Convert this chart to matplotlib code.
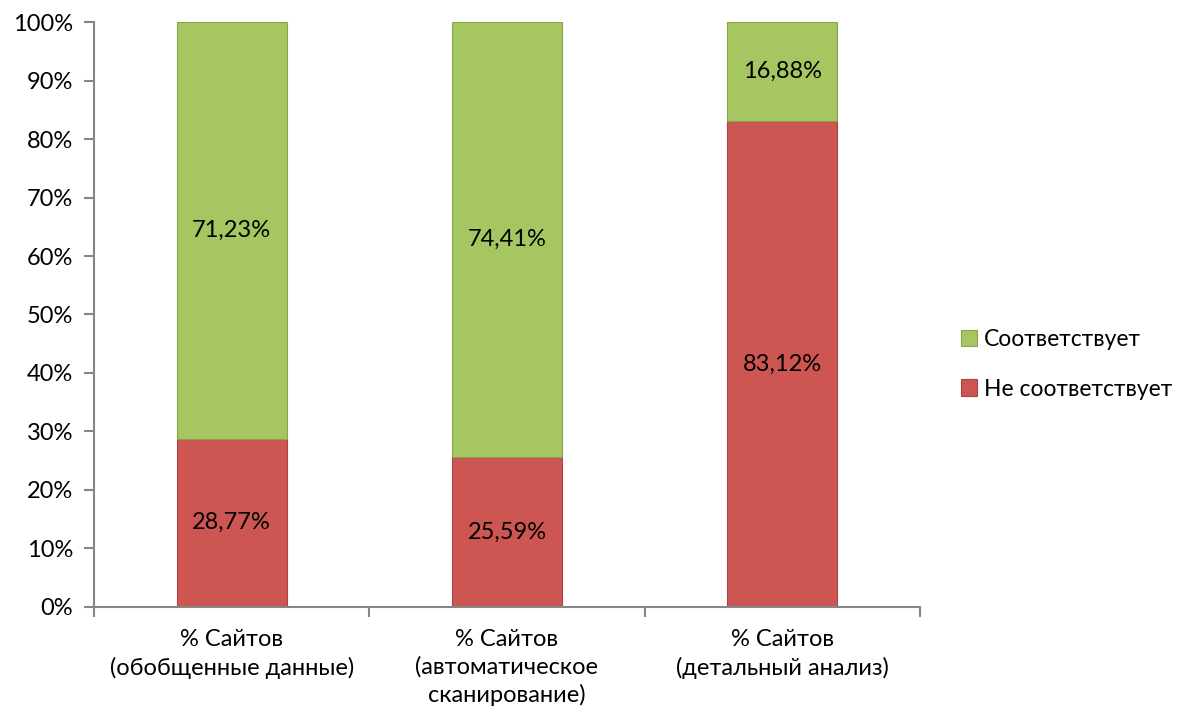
import matplotlib.pyplot as plt
import numpy as np

# данные
categorias = ['% Сайтов\n(обобщенные данные)', '% Сайтов\n(автоматическое\nсканирование)', '% Сайтов\n(детальный анализ)']
no_corresponde = [28.77, 25.59, 83.12]
corresponde = [71.23, 74.41, 16.88]
etiquetas_serie = ['Соответствует', 'Не соответствует']

plt.rcParams['font.family'] = ['Lato', 'DejaVu Sans']

fig = plt.figure(figsize=(11.79, 7.2), dpi=100)
ax = fig.add_axes([0.0797, 0.157, 0.7006, 0.8124])

x = np.arange(len(categorias))
ancho = 0.4
rojo = '#CD5653'
verde = '#A5C660'

b1 = ax.bar(x, no_corresponde, ancho, color=rojo, edgecolor='#A84542', linewidth=0.8, label=etiquetas_serie[1])
b2 = ax.bar(x, corresponde, ancho, bottom=no_corresponde, color=verde, edgecolor='#86A54A', linewidth=0.8, label=etiquetas_serie[0])

# etiquetas de datos
for i in range(len(x)):
    ax.text(x[i], no_corresponde[i] / 2, f'{no_corresponde[i]:.2f}%'.replace('.', ','),
            ha='center', va='center', fontsize=17)
    ax.text(x[i], no_corresponde[i] + corresponde[i] / 2, f'{corresponde[i]:.2f}%'.replace('.', ','),
            ha='center', va='center', fontsize=17)

ax.set_xlim(-0.5, 2.5)
ax.set_ylim(0, 100)
ax.set_yticks(np.arange(0, 101, 10))
ax.set_yticklabels([f'{v}%' for v in range(0, 101, 10)], fontsize=17)

# ticks del eje x en los bordes de categoria
ax.set_xticks([-0.5, 0.5, 1.5, 2.5])
ax.set_xticklabels([])
ax.set_xticks(x, minor=True)
ax.set_xticklabels(categorias, minor=True, fontsize=17, linespacing=1.35)
ax.tick_params(axis='x', which='minor', length=0, pad=16)
ax.tick_params(axis='x', which='major', direction='out', length=7, color='#868686', width=1.5)
ax.tick_params(axis='y', direction='out', length=7, color='#868686', width=1.5, pad=8)

for s in ['top', 'right']:
    ax.spines[s].set_visible(False)
for s in ['left', 'bottom']:
    ax.spines[s].set_color('#868686')
    ax.spines[s].set_linewidth(1.5)

ax.legend(handles=[b2, b1], labels=etiquetas_serie, loc='center left', bbox_to_anchor=(1.036, 0.415),
          frameon=False, fontsize=16.5, handlelength=0.7, handleheight=0.7, handletextpad=0.3,
          labelspacing=1.25, borderpad=0)

fig.savefig('out.png', dpi=100)
